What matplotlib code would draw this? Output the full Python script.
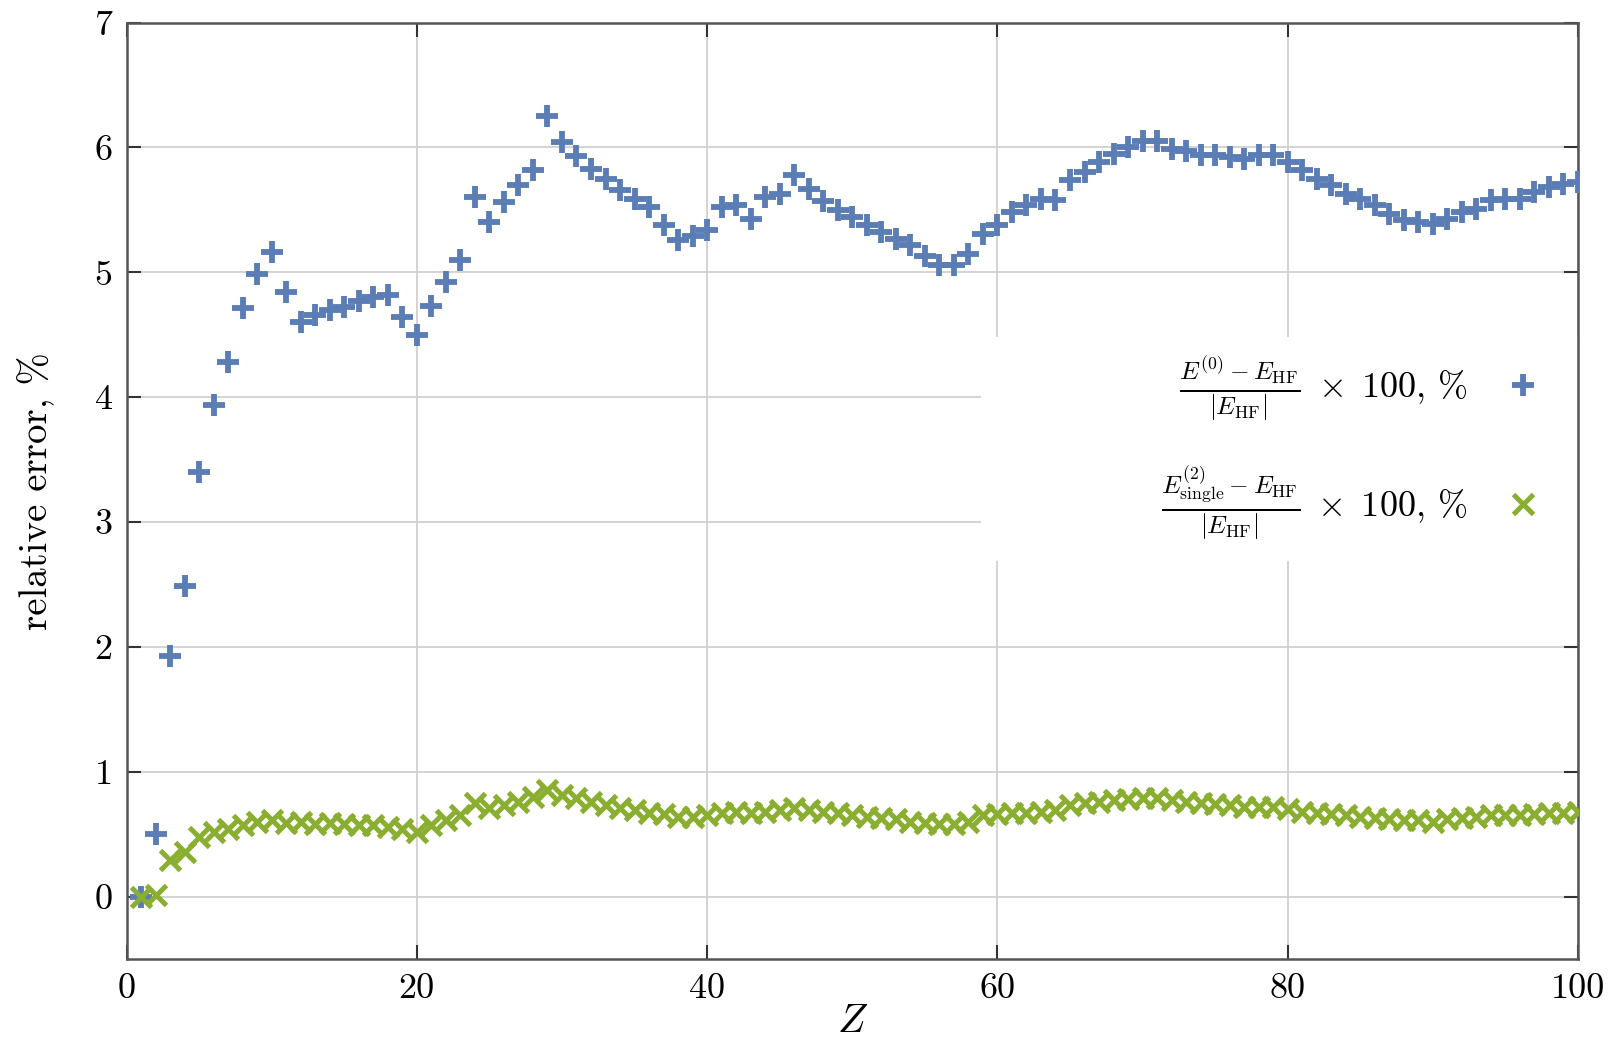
import matplotlib
matplotlib.use("Agg")
import matplotlib.pyplot as plt
from matplotlib.patches import Rectangle

Z = list(range(1, 101))

err_E0 = [0.00, 0.50, 1.93, 2.49, 3.40, 3.94, 4.28, 4.71, 4.99, 5.16,
          4.84, 4.60, 4.66, 4.70, 4.72, 4.77, 4.80, 4.82, 4.64, 4.50,
          4.73, 4.92, 5.10, 5.60, 5.40, 5.56, 5.70, 5.82, 6.25, 6.04,
          5.93, 5.83, 5.75, 5.66, 5.59, 5.52, 5.38, 5.26, 5.29, 5.34,
          5.52, 5.54, 5.43, 5.60, 5.63, 5.78, 5.67, 5.57, 5.50, 5.44,
          5.38, 5.32, 5.27, 5.22, 5.13, 5.06, 5.06, 5.15, 5.31, 5.38,
          5.48, 5.54, 5.59, 5.58, 5.74, 5.80, 5.88, 5.95, 6.00, 6.05,
          6.05, 5.99, 5.97, 5.94, 5.94, 5.92, 5.91, 5.94, 5.94, 5.88,
          5.82, 5.75, 5.70, 5.63, 5.59, 5.54, 5.47, 5.42, 5.40, 5.39,
          5.43, 5.48, 5.51, 5.58, 5.59, 5.59, 5.64, 5.68, 5.71, 5.72]

err_E2 = [0.00, 0.01, 0.29, 0.36, 0.48, 0.52, 0.54, 0.57, 0.60, 0.61,
          0.59, 0.60, 0.58, 0.59, 0.58, 0.57, 0.57, 0.56, 0.54, 0.52,
          0.57, 0.61, 0.65, 0.75, 0.71, 0.73, 0.76, 0.80, 0.85, 0.81,
          0.79, 0.76, 0.73, 0.71, 0.69, 0.67, 0.66, 0.64, 0.64, 0.65,
          0.67, 0.68, 0.67, 0.68, 0.69, 0.71, 0.69, 0.68, 0.67, 0.65,
          0.64, 0.63, 0.62, 0.60, 0.59, 0.58, 0.58, 0.60, 0.65, 0.66,
          0.67, 0.67, 0.68, 0.69, 0.73, 0.75, 0.76, 0.77, 0.78, 0.79,
          0.79, 0.77, 0.76, 0.75, 0.74, 0.73, 0.72, 0.72, 0.72, 0.70,
          0.68, 0.67, 0.66, 0.65, 0.64, 0.63, 0.62, 0.61, 0.61, 0.60,
          0.62, 0.63, 0.64, 0.65, 0.65, 0.65, 0.66, 0.67, 0.67, 0.68]

xticks = [0, 20, 40, 60, 80, 100]
yticks = [0, 1, 2, 3, 4, 5, 6, 7]

label_E0 = r'$\frac{E^{(0)}-E_{\mathrm{HF}}}{|E_{\mathrm{HF}}|}\;\times\;100$, %'
label_E2 = r'$\frac{E^{(2)}_{\mathrm{single}}-E_{\mathrm{HF}}}{|E_{\mathrm{HF}}|}\;\times\;100$, %'

plt.rcParams['font.family'] = 'serif'
plt.rcParams['font.serif'] = ['cmr10']
plt.rcParams['mathtext.fontset'] = 'cm'
plt.rcParams['axes.unicode_minus'] = False
plt.rcParams['axes.formatter.use_mathtext'] = True

blue = '#5a7db5'
green = '#8aae30'

fig = plt.figure(figsize=(16.14, 10.40), dpi=100)
ax = fig.add_axes([0.0784, 0.0779, 0.8993, 0.9004])

ax.plot(Z, err_E0, linestyle='none', marker='+', markersize=16, markeredgewidth=4.2,
        color=blue, label=label_E0, zorder=3)
ax.plot(Z, err_E2, linestyle='none', marker='x', markersize=15, markeredgewidth=3.6,
        color=green, label=label_E2, zorder=4)

ax.set_xlim(0, 100)
ax.set_ylim(-0.5, 7)
ax.set_xticks(xticks)
ax.set_yticks(yticks)
ax.set_xticklabels([str(t) for t in xticks])
ax.set_yticklabels([str(t) for t in yticks])
ax.tick_params(direction='in', length=10, width=1.5, labelsize=26, top=True, right=True,
               color='#333333', pad=10)
ax.grid(True, color='#d0d0d0', linewidth=1.3)
ax.set_axisbelow(True)
for s in ax.spines.values():
    s.set_color('#555555')
    s.set_linewidth(1.8)

ax.set_xlabel(r'$Z$', fontsize=29, labelpad=0)
ax.set_ylabel('relative error, %', fontsize=28, labelpad=28)

# white key box (covers the grid behind the legend)
ax.add_patch(Rectangle((0.5887, 0.425), 1.0 - 0.5887, 0.6647 - 0.425,
                       transform=ax.transAxes, facecolor='white', edgecolor='none',
                       zorder=1))

leg = ax.legend(loc='center right', bbox_to_anchor=(0.977, 0.5456), markerfirst=False,
                frameon=False, fontsize=26, borderaxespad=0.0, borderpad=0.0,
                labelspacing=1.15, handletextpad=0.95, handlelength=1.2)

fig.savefig('out.png', dpi=100)
